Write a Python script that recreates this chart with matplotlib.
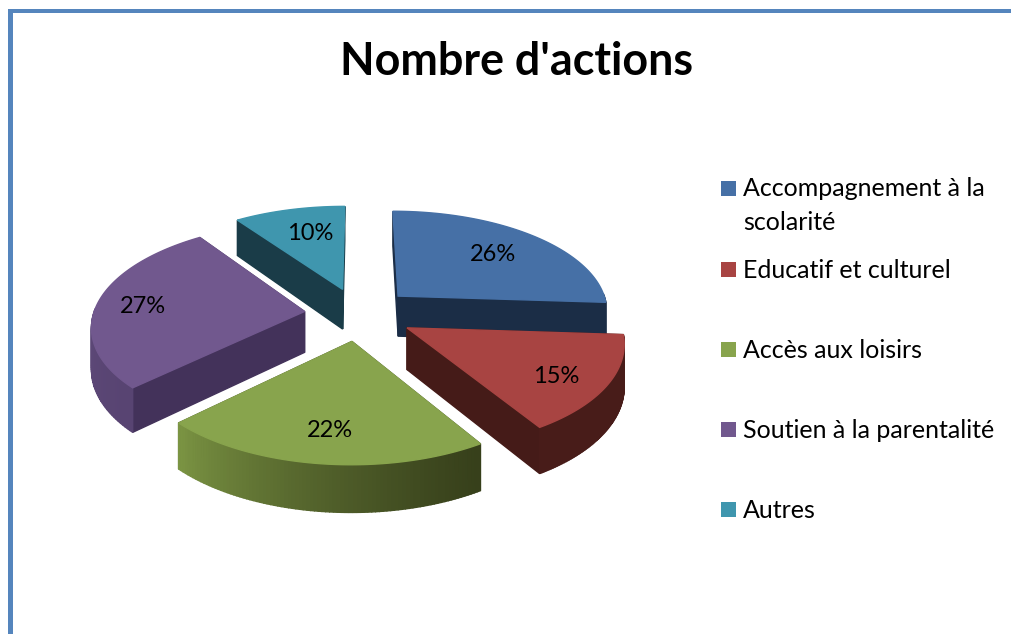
import numpy as np
from matplotlib import pyplot as plt
from matplotlib.colors import to_rgb
from matplotlib.patches import Polygon, Rectangle

plt.rcParams["font.family"] = ["Lato", "DejaVu Sans"]

title = "Nombre d'actions"
categories = ["Accompagnement à la\nscolarité", "Educatif et culturel", "Accès aux loisirs",
              "Soutien à la parentalité", "Autres"]
values = [26, 15, 22, 27, 10]

top_colors = ["#4670a6", "#a84442", "#88a44d", "#71588e", "#3f96ae"]
wall_colors = ["#1b2d46", "#451b18", "#37401b", "#43325a", "#1a3c48"]
# couleur du bord courbe : debut / fin de la tranche (sens horaire)
arc_colors = [("#1b2d46", "#1b2d46"), ("#481c19", "#481c19"), ("#37401b", "#7b9443"),
              ("#584472", "#6a5488"), ("#1a3c48", "#1a3c48")]
label_r = [0.69, 0.77, 0.73, 0.78, 0.68]
label_shift = [0, -2, 0, 0, -2.5]  # degres par rapport au milieu de la tranche
legend_y = [188, 269, 349, 429, 509]

CX, CY = 359, 314
RX, RY = 211, 103
DEPTH = 41
EXPLODE = 0.26
PERSP = 0.13


def project(x, y, down=0.0):
    # x, y dans le plan du camembert (rayon 1), y vers le fond
    f = 1 - PERSP * y
    return CX + RX * x * f, CY - RY * y * f + DEPTH * down * f


def mix(c1, c2, t):
    a, b = np.array(to_rgb(c1)), np.array(to_rgb(c2))
    return tuple(a + (b - a) * t)


fig = plt.figure(figsize=(10.11, 6.34), dpi=100)
ax = fig.add_axes([0, 0, 1, 1])
ax.set_xlim(0, 1011)
ax.set_ylim(634, 0)
ax.axis("off")

# cadre bleu en haut et a gauche
ax.add_patch(Rectangle((8, 9), 1003, 3.5, color="#5585bd", lw=0))
ax.add_patch(Rectangle((8, 9), 4.5, 625, color="#5585bd", lw=0))

total = sum(values)
angle = 90.0
slices = []
for i, v in enumerate(values):
    sweep = 360.0 * v / total
    slices.append((i, angle, angle - sweep))
    angle -= sweep

# des tranches du fond vers le devant
slices.sort(key=lambda s: -np.sin(np.radians((s[1] + s[2]) / 2)))

for i, a0, a1 in slices:
    mid = np.radians((a0 + a1) / 2)
    ox, oy = EXPLODE * np.cos(mid), EXPLODE * np.sin(mid)
    th = np.radians(np.linspace(a0, a1, 90))
    xs = ox + np.cos(th)
    ys = oy + np.sin(th)

    # parois : radiales + bord courbe, triees de l'arriere vers l'avant
    quads = []
    for end in (0, -1):
        p = [(ox, oy), (xs[end], ys[end])]
        quads.append((np.mean([q[1] for q in p]), p, wall_colors[i]))
    for k in range(len(th) - 1):
        if np.sin(th[k]) > 0.02 and np.sin(th[k + 1]) > 0.02:
            continue  # bord arriere, cache par le dessus
        p = [(xs[k], ys[k]), (xs[k + 1], ys[k + 1])]
        c = mix(arc_colors[i][0], arc_colors[i][1], (k / (len(th) - 2)) ** 1.3)
        quads.append((np.mean([q[1] for q in p]), p, c))
    quads.sort(key=lambda q: -q[0])
    for _, p, c in quads:
        pts = [project(*p[0]), project(*p[1]), project(*p[1], 1), project(*p[0], 1)]
        ax.add_patch(Polygon(pts, closed=True, fc=c, ec=c, lw=1.0))

    top = [project(ox, oy)] + [project(x, y) for x, y in zip(xs, ys)]
    ax.add_patch(Polygon(top, closed=True, fc=top_colors[i], ec=top_colors[i], lw=1.0))

    la = mid + np.radians(label_shift[i])
    lx, ly = project(ox + label_r[i] * np.cos(la), oy + label_r[i] * np.sin(la))
    ax.text(lx, ly + 2, "%d%%" % values[i], fontsize=17, color="black", ha="center", va="center")

ax.text(516, 62, title, fontsize=32.3, fontweight="bold", color="black", ha="center", va="center")

for i, cat in enumerate(categories):
    ax.add_patch(Rectangle((721, legend_y[i] - 7.5), 15, 15, color=top_colors[i], lw=0))
    ax.text(743, legend_y[i] + 1, cat.split("\n")[0], fontsize=18, color="black", va="center")
    if "\n" in cat:
        ax.text(743, legend_y[i] + 34, cat.split("\n")[1], fontsize=18, color="black", va="center")

fig.savefig("out.png", dpi=100)
